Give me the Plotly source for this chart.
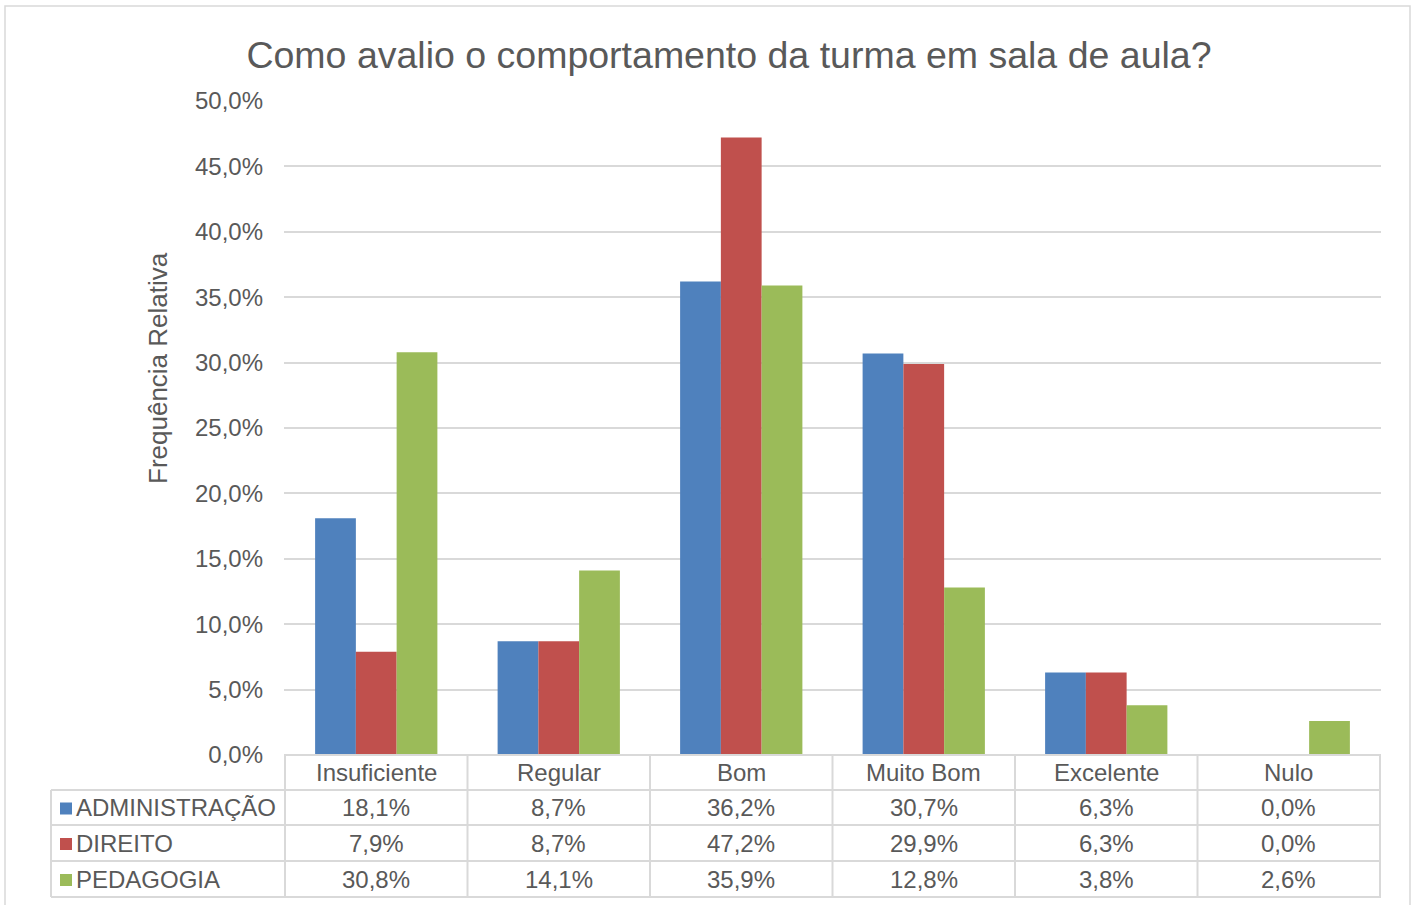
import plotly.graph_objects as go

# Data
categories = ['Insuficiente', 'Regular', 'Bom', 'Muito Bom', 'Excelente', 'Nulo']
administracao = [18.1, 8.7, 36.2, 30.7, 6.3, 0.0]
direito = [7.9, 8.7, 47.2, 29.9, 6.3, 0.0]
pedagogia = [30.8, 14.1, 35.9, 12.8, 3.8, 2.6]

series = [('ADMINISTRAÇÃO', administracao, '#4F81BD'),
          ('DIREITO', direito, '#C0504D'),
          ('PEDAGOGIA', pedagogia, '#9BBB59')]

W, H = 1413, 905
L, R, T, B = 284, 32, 101, 150
PW, PH = W - L - R, H - T - B
FONT = 'Liberation Sans, Arial, sans-serif'
GRAY = '#595959'
LINE = '#D9D9D9'
FS = 24


def px_x(p):
    return (p - L) / PW


def px_y(p):
    return (H - B - p) / PH


fig = go.Figure()
for name, vals, color in series:
    fig.add_trace(go.Bar(x=categories, y=[v / 100 for v in vals], name=name,
                         marker=dict(color=color, line=dict(width=0)),
                         showlegend=False))

shapes = []
annotations = []

# table row geometry (pixels)
row_lines = [755, 790, 825, 861, 897]
row_centers = [(row_lines[i] + row_lines[i + 1]) / 2 for i in range(4)]
left_px = 51

# horizontal lines
shapes.append(dict(type='line', xref='paper', yref='paper', x0=0, x1=1,
                   y0=px_y(755), y1=px_y(755), line=dict(color=LINE, width=2)))
for yl in row_lines[1:]:
    shapes.append(dict(type='line', xref='paper', yref='paper',
                       x0=px_x(left_px), x1=1, y0=px_y(yl), y1=px_y(yl),
                       line=dict(color=LINE, width=2)))
# vertical lines between categories
for i in range(len(categories) + 1):
    shapes.append(dict(type='line', xref='x', yref='paper', x0=i - 0.5, x1=i - 0.5,
                       y0=px_y(755), y1=px_y(897), line=dict(color=LINE, width=2)))
shapes.append(dict(type='line', xref='paper', yref='paper', x0=px_x(left_px), x1=px_x(left_px),
                   y0=px_y(790), y1=px_y(897), line=dict(color=LINE, width=2)))

# header category labels
for c in categories:
    annotations.append(dict(x=c, xref='x', y=px_y(row_centers[0]), yref='paper',
                            yanchor='middle', xanchor='center',
                            text=c, showarrow=False, font=dict(size=FS, color=GRAY, family=FONT)))

# series rows
for r, (name, vals, color) in enumerate(series):
    yc = row_centers[r + 1]
    shapes.append(dict(type='rect', xref='paper', yref='paper',
                       x0=px_x(60), x1=px_x(72), y0=px_y(yc + 7), y1=px_y(yc - 5),
                       fillcolor=color, line=dict(width=0)))
    annotations.append(dict(x=px_x(74), xref='paper', y=px_y(yc), yref='paper',
                            text=name, showarrow=False, xanchor='left', yanchor='middle',
                            font=dict(size=FS, color=GRAY, family=FONT)))
    for c, v in zip(categories, vals):
        annotations.append(dict(x=c, xref='x', y=px_y(yc), yref='paper',
                                yanchor='middle', xanchor='center',
                                text=f'{v:.1f}%'.replace('.', ','), showarrow=False,
                                font=dict(size=FS, color=GRAY, family=FONT)))

# y axis title
annotations.append(dict(x=px_x(158), xref='paper', y=px_y(368), yref='paper',
                        text='Frequência Relativa', textangle=-90, showarrow=False,
                        xanchor='center', yanchor='middle',
                        font=dict(size=26, color=GRAY, family=FONT)))

# chart border
shapes.append(dict(type='rect', xref='paper', yref='paper', x0=px_x(5), x1=px_x(1410),
                   y0=px_y(908), y1=px_y(6), line=dict(color=LINE, width=1.5)))

fig.update_layout(
    width=W, height=H,
    margin=dict(l=L, r=R, t=T, b=B),
    paper_bgcolor='white', plot_bgcolor='white',
    separators=',.',
    barmode='group', bargap=0.33, bargroupgap=0,
    title=dict(text='Como avalio o comportamento da turma em sala de aula?',
               x=729 / W, xref='container', xanchor='center', y=1 - 55 / H, yanchor='middle',
               font=dict(size=37.5, color=GRAY, family=FONT)),
    font=dict(family=FONT, color=GRAY),
    shapes=shapes, annotations=annotations,
)
fig.update_xaxes(showticklabels=False, showgrid=False, zeroline=False,
                 showline=False, ticks='')
fig.update_yaxes(range=[0, 0.5], dtick=0.05, tickformat='.1%', showgrid=True,
                 gridcolor=LINE, gridwidth=1.5, zeroline=False, showline=False,
                 ticks='', ticklabelstandoff=20,
                 tickfont=dict(size=FS, color=GRAY, family=FONT))

fig.write_html('out.html', config={'displayModeBar': False},
               post_script="document.body.style.margin='0';")
